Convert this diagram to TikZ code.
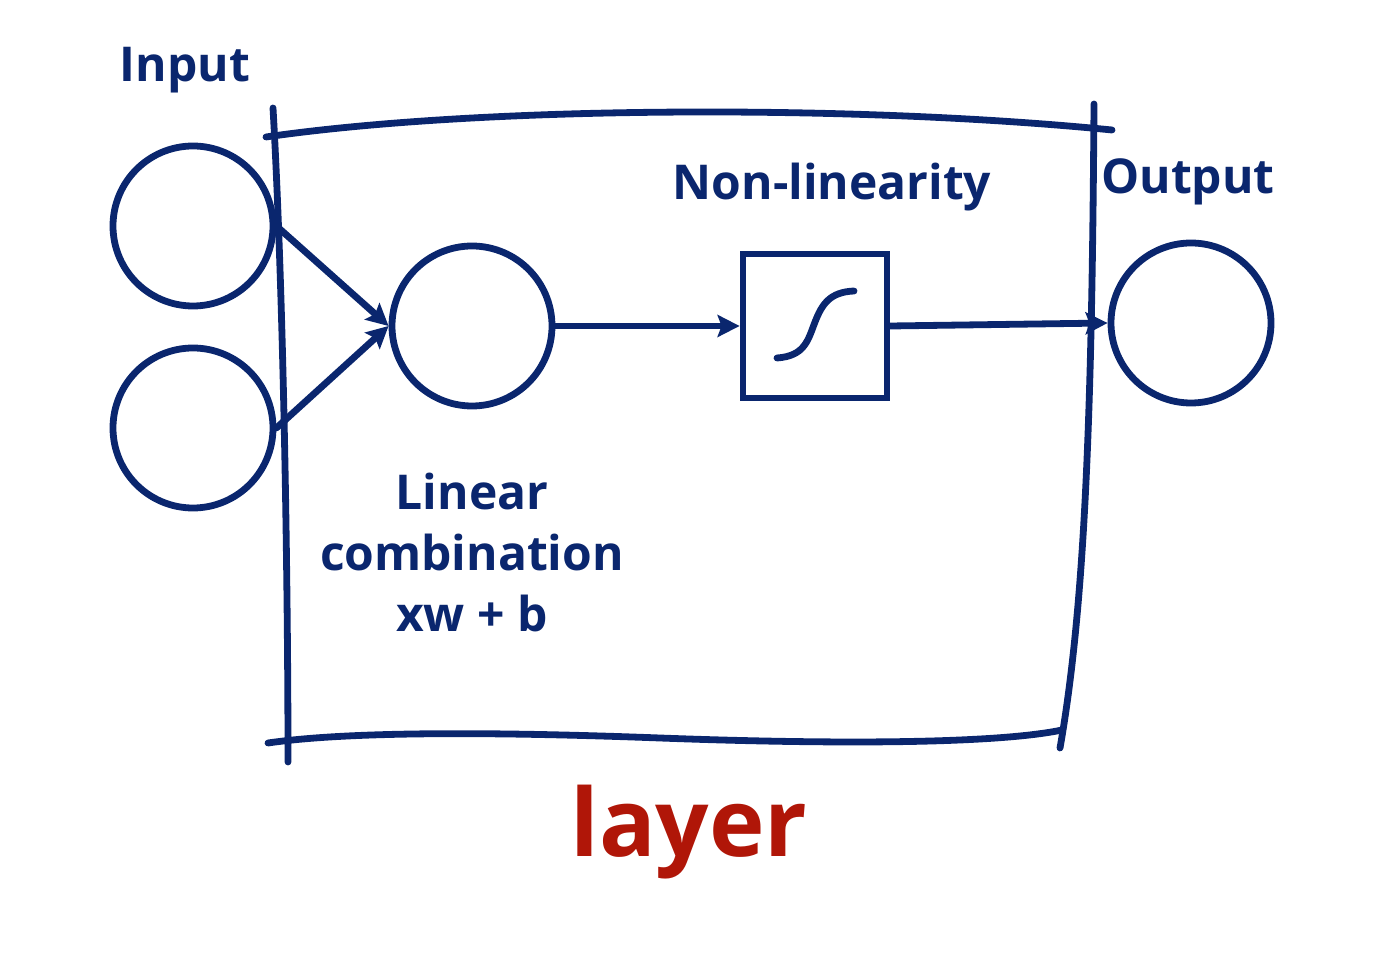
\documentclass[tikz,border=0pt]{standalone}
\usepackage{fontspec}
\setmainfont{Open Sans}
\usetikzlibrary{arrows.meta}
\definecolor{navy}{RGB}{10,38,110}
\definecolor{layred}{RGB}{176,22,8}
\tikzset{
  ink/.style={draw=navy, line width=3.4pt, line cap=round},
  circ/.style={ink, circle, minimum size=80pt, inner sep=0pt},
  sbox/.style={ink, rectangle, minimum width=72pt, minimum height=72pt, inner sep=0pt, line cap=butt},
  arr/.style={ink, -{Stealth[length=11pt, width=11pt, inset=2pt]}},
  lbl/.style={text=navy, font=\bfseries\fontsize{24}{30.5}\selectfont, align=center, inner sep=0pt}
}
\begin{document}
\begin{tikzpicture}[x=0.5pt, y=-0.5pt]
\useasboundingbox (0,0) rectangle (1397,961);
% frame
\coordinate (tl) at (273,108);
\coordinate (bl) at (288,762);
\coordinate (tr) at (1094,104);
\coordinate (br) at (1060,748);
\coordinate (ts) at (266,137);
\coordinate (te) at (1112,130);
\coordinate (bs) at (268,743);
\coordinate (bm) at (660,738);
\coordinate (be) at (1062,730);
\draw[ink] (tl) .. controls (284,300) and (288,600) .. (bl);
\draw[ink] (tr) .. controls (1092,400) and (1086,600) .. (br);
\draw[ink] (ts) .. controls (480,106) and (850,104) .. (te);
\draw[ink] (bs) .. controls (350,731) and (500,732) .. (bm) .. controls (850,745) and (1000,743) .. (be);
% nodes
\node[circ] (in1) at (193,226) {};
\node[circ] (in2) at (193,428) {};
\node[circ] (lin) at (472,326) {};
\node[sbox] (nl) at (815,326) {};
\node[circ] (out) at (1191,323) {};
% sigmoid
\coordinate (s1) at (777,358);
\coordinate (s2) at (854,291);
\draw[ink] (s1) .. controls (805,356) and (808,340) .. (815,322) .. controls (822,304) and (830,292) .. (s2);
% connectors
\draw[arr] (in1.east) -- (lin.west);
\draw[arr] (in2.east) -- (lin.west);
\draw[arr] (lin.east) -- (nl.west);
\draw[arr] (nl.east) -- (out.west);
% labels
\node[lbl] (tin) at (185,70) {Input};
\node[lbl] (tnl) at (832,187) {Non-linearity};
\node[lbl] (tout) at (1188,182) {Output};
\node[lbl] (tlin) at (472,553) {Linear\\combination\\xw + b};
\node[text=layred, font=\bfseries\fontsize{47}{50}\selectfont, inner sep=0pt] (tlayer) at (689,832) {layer};
\end{tikzpicture}
\end{document}
